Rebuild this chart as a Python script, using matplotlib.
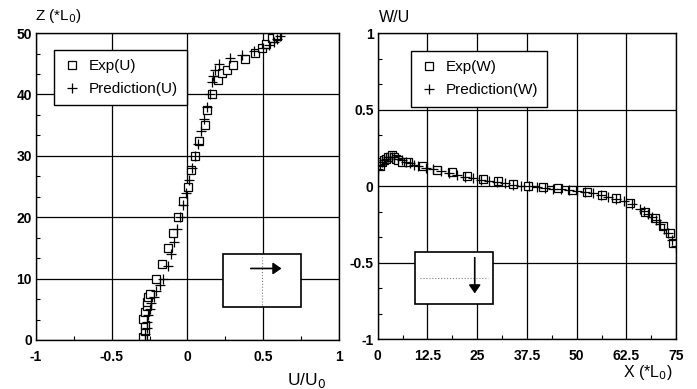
import matplotlib
matplotlib.use("Agg")
import matplotlib.pyplot as plt
from matplotlib.patches import Rectangle, FancyArrowPatch
from matplotlib.ticker import MultipleLocator, AutoMinorLocator

plt.rcParams['font.family'] = ['Liberation Sans', 'DejaVu Sans']

# left panel: U/U0 profile vs Z
exp_u = [-0.29, -0.28, -0.28, -0.29, -0.28, -0.27, -0.27, -0.26, -0.25, -0.21, -0.17,
         -0.13, -0.095, -0.063, -0.03, 0.003, 0.023, 0.05, 0.076, 0.115, 0.13, 0.16,
         0.2, 0.23, 0.26, 0.30, 0.38, 0.45, 0.49, 0.52, 0.56, 0.59]
exp_z = [0.5, 1.5, 2.5, 3.5, 4.5, 5.5, 6.2, 7.0, 7.5, 9.9, 12.4,
         15.0, 17.4, 20.0, 22.6, 25.0, 27.7, 30.0, 32.4, 35.0, 37.5, 40.0,
         42.3, 43.5, 44.0, 44.8, 45.7, 46.7, 47.5, 48.3, 49.2, 49.5]
pred_u = [-0.28, -0.28, -0.27, -0.27, -0.26, -0.25, -0.24, -0.22, -0.21, -0.18, -0.16,
          -0.13, -0.11, -0.09, -0.07, -0.05, -0.03, -0.01, 0.01, 0.03, 0.05, 0.07,
          0.09, 0.11, 0.13, 0.15, 0.16, 0.17, 0.18, 0.21, 0.28, 0.36, 0.44, 0.5,
          0.54, 0.57, 0.59, 0.61]
pred_z = [0, 1, 2, 3, 4, 5, 6, 7, 8, 9, 10,
          12, 14, 16, 18, 20, 22, 24, 26, 28, 30, 32,
          34, 36, 38, 40, 42, 43, 44, 45, 46, 46.5, 47, 47.5,
          48, 48.5, 49, 49.5]

# right panel: W/U along X
exp_x = [0.5, 1, 1.5, 2, 2.5, 3, 3.5, 4, 4.5, 5, 6, 7.6, 11.3, 15, 18.6, 22.4, 26.4,
         30.2, 34, 37.7, 41.5, 45.3, 48.8, 52.6, 56.4, 59.9, 63.4, 67.2, 69.7,
         71.7, 73.5, 74.3]
exp_w = [0.13, 0.16, 0.17, 0.18, 0.19, 0.19, 0.2, 0.19, 0.18, 0.17, 0.16, 0.16, 0.13,
         0.105, 0.09, 0.065, 0.046, 0.033, 0.013, 0.0, -0.007, -0.015, -0.026,
         -0.037, -0.059, -0.078, -0.11, -0.17, -0.21, -0.26, -0.31, -0.37]
pred_x = [0, 0.5, 1, 1.5, 2, 2.5, 3, 3.5, 4, 5, 6, 7, 8, 9, 10, 12, 14, 16, 18, 20,
          22, 24, 26, 28, 30, 32, 34, 36, 38, 40, 42, 44, 46, 48, 50, 52, 54, 56,
          58, 60, 62, 64, 66, 67, 68, 69, 70, 71, 72, 73, 74, 75]
pred_w = [0.11, 0.14, 0.16, 0.17, 0.18, 0.19, 0.19, 0.19, 0.19, 0.18, 0.17, 0.16, 0.15,
          0.14, 0.13, 0.12, 0.11, 0.1, 0.085, 0.07, 0.06, 0.05, 0.04, 0.03, 0.025,
          0.018, 0.01, 0.003, -0.003, -0.008, -0.012, -0.018, -0.022, -0.028, -0.033,
          -0.04, -0.048, -0.058, -0.07, -0.082, -0.1, -0.12, -0.15, -0.165, -0.18,
          -0.2, -0.22, -0.25, -0.28, -0.31, -0.35, -0.39]

fig = plt.figure(figsize=(6.97, 3.89), dpi=100)
ax1 = fig.add_axes([0.0517, 0.126, 0.4343, 0.789])
ax2 = fig.add_axes([0.542, 0.1285, 0.428, 0.7865])


def style_axes(ax):
    ax.grid(True, which='major', color='black', linewidth=0.9)
    ax.set_axisbelow(True)
    for s in ax.spines.values():
        s.set_linewidth(1.0)
    ax.xaxis.set_minor_locator(AutoMinorLocator(2))
    ax.yaxis.set_minor_locator(AutoMinorLocator(3))
    ax.tick_params(which='major', direction='in', length=0, labelsize=10)
    ax.tick_params(which='minor', direction='in', length=3, width=0.8)
    ax.tick_params(axis='x', pad=7)
    ax.tick_params(axis='y', pad=3)
    for lab in ax.get_xticklabels() + ax.get_yticklabels():
        lab.set_fontweight('bold')


def add_legend(ax, anchor):
    ax.legend(loc='upper left', bbox_to_anchor=anchor, borderaxespad=0,
              fancybox=False, edgecolor='black', framealpha=1, fontsize=11,
              handletextpad=0.5, handlelength=1.2, borderpad=0.6, labelspacing=0.6)


ax1.plot(exp_u, exp_z, 's', mfc='white', mec='black', ms=6, mew=0.9, label='Exp(U)')
ax1.plot(pred_u, pred_z, '+', color='black', ms=7, mew=0.9, label='Prediction(U)')
ax1.set_xlim(-1, 1)
ax1.set_ylim(0, 50)
ax1.yaxis.set_major_locator(MultipleLocator(10))
ax1.set_xticks([-1, -0.5, 0, 0.5, 1])
ax1.set_xticklabels(['-1', '-0.5', '0', '0.5', '1'])
style_axes(ax1)
add_legend(ax1, (0.059, 0.945))
fig.text(0.05, 0.935, 'Z (*L$_0$)', fontsize=11, ha='left', va='bottom')
fig.text(0.44, 0.045, 'U/U$_0$', fontsize=12.5, ha='center', va='top')

# inset with right-pointing arrow
ax1.add_patch(Rectangle((0.617, 0.108), 0.257, 0.172, transform=ax1.transAxes,
                        facecolor='white', edgecolor='black', linewidth=1.2, zorder=3))
ax1.plot([0.745, 0.745], [0.115, 0.27], transform=ax1.transAxes, color='gray',
         linestyle=':', linewidth=0.8, zorder=4)
ax1.add_patch(FancyArrowPatch((0.70, 0.233), (0.82, 0.233), transform=ax1.transAxes,
                              arrowstyle='-|>,head_length=5,head_width=3.5',
                              color='black', linewidth=1.2, zorder=5))

ax2.plot(exp_x, exp_w, 's', mfc='white', mec='black', ms=6, mew=0.9, label='Exp(W)')
ax2.plot(pred_x, pred_w, '+', color='black', ms=7, mew=0.9, label='Prediction(W)')
ax2.set_xlim(0, 75)
ax2.set_ylim(-1, 1)
ax2.set_xticks([0, 12.5, 25, 37.5, 50, 62.5, 75])
ax2.set_xticklabels(['0', '12.5', '25', '37.5', '50', '62.5', '75'])
ax2.set_yticks([-1, -0.5, 0, 0.5, 1])
ax2.set_yticklabels(['-1', '-0.5', '0', '0.5', '1'])
style_axes(ax2)
add_legend(ax2, (0.11, 0.941))
fig.text(0.543, 0.935, 'W/U', fontsize=11.5, ha='left', va='bottom')
fig.text(0.965, 0.067, 'X (*L$_0$)', fontsize=11.5, ha='right', va='top')

# inset with down-pointing arrow
ax2.add_patch(Rectangle((0.124, 0.114), 0.262, 0.17, transform=ax2.transAxes,
                        facecolor='white', edgecolor='black', linewidth=1.2, zorder=3))
ax2.plot([0.14, 0.37], [0.2, 0.2], transform=ax2.transAxes, color='gray',
         linestyle=':', linewidth=0.8, zorder=4)
ax2.add_patch(FancyArrowPatch((0.325, 0.275), (0.325, 0.14), transform=ax2.transAxes,
                              arrowstyle='-|>,head_length=5,head_width=3.5',
                              color='black', linewidth=1.2, zorder=5))

fig.savefig('out.png', dpi=100)
